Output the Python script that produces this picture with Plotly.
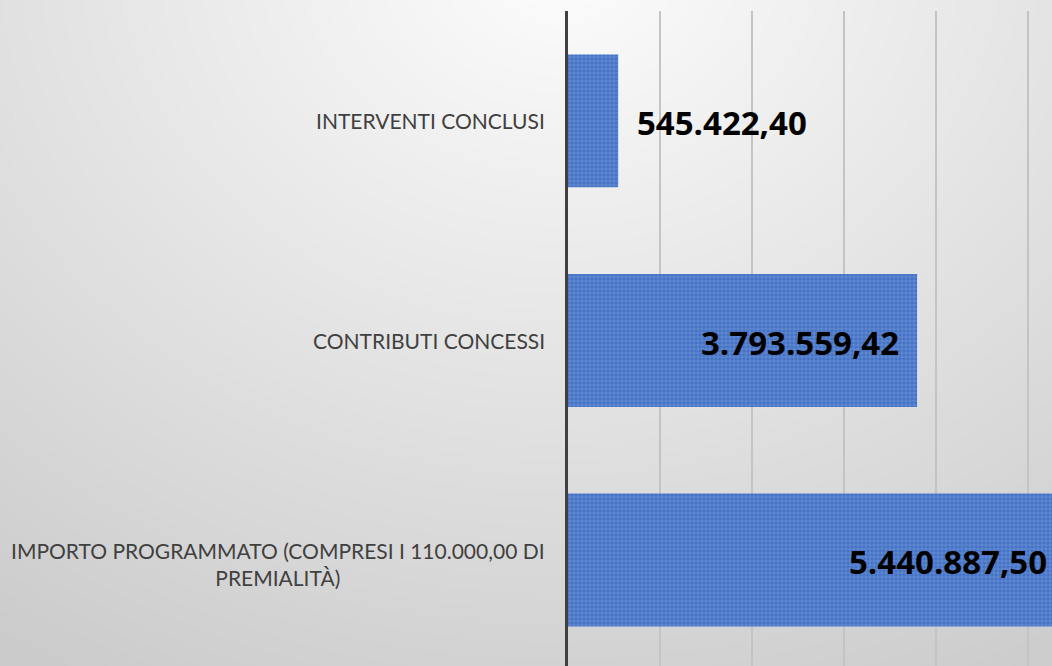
import plotly.graph_objects as go

# ---- data (bottom to top) ----
categories = [
    "IMPORTO PROGRAMMATO (COMPRESI I 110.000,00 DI<br>PREMIALITÀ)",
    "CONTRIBUTI CONCESSI",
    "INTERVENTI CONCLUSI",
]
values = [5440887.50, 3793559.42, 545422.40]
label_pos = ["end_clipped", "inside", "outside"]

W, H = 1052, 666
ML, MR, MT, MB = 568, 0, 11, 0
PW, PH = W - ML - MR, H - MT - MB
XMAX = 5.26e6


def it_fmt(v):
    s = f"{v:,.2f}"
    return s.replace(",", "X").replace(".", ",").replace("X", ".")


fig = go.Figure()
fig.add_trace(go.Bar(
    y=categories,
    x=values,
    orientation="h",
    width=0.605,
    marker=dict(
        color="#4472C4",
        line=dict(width=0),
        pattern=dict(shape="+", size=4, solidity=0.3,
                     fgcolor="rgba(200,218,250,0.7)", bgcolor="#4472C4"),
    ),
    hoverinfo="skip",
))

# ---- background radial gradient (styling) ----
shapes = []
cx, cy, sy = 560.0, -40.0, 1.2


def gray(d):
    c = 250 - 0.0497 * max(d - 50, 0)
    c = int(round(max(min(c, 250), 195)))
    return f"rgb({c},{c},{c})"


def px2paper_x(px):
    return (px - ML) / PW


def py2paper_y(py):
    return (H - MB - py) / PH


shapes.append(dict(type="rect", xref="paper", yref="paper",
                   x0=px2paper_x(0), x1=px2paper_x(W),
                   y0=py2paper_y(H), y1=py2paper_y(0),
                   fillcolor=gray(1000), line=dict(width=0), layer="below"))
d = 1000
while d > 0:
    rx, ry = d, d / sy
    shapes.append(dict(type="circle", xref="paper", yref="paper",
                       x0=px2paper_x(cx - rx), x1=px2paper_x(cx + rx),
                       y0=py2paper_y(cy + ry), y1=py2paper_y(cy - ry),
                       fillcolor=gray(d), line=dict(width=0), layer="below"))
    d -= 20

# ---- annotations: category labels and data labels ----
annotations = []
for cat in categories:
    annotations.append(dict(
        xref="paper", yref="y", x=-21 / PW, y=cat,
        yshift=-4 if "<br>" in cat else 0,
        text=cat, showarrow=False, xanchor="right", yanchor="middle",
        align="center",
        font=dict(family="Lato", size=21, color="#404040"),
    ))

for cat, v, pos in zip(categories, values, label_pos):
    if pos == "outside":
        ax, anchor, shift = v, "left", 17
    elif pos == "inside":
        ax, anchor, shift = v, "right", -16
    else:
        ax, anchor, shift = min(v, XMAX), "right", -3
    annotations.append(dict(
        xref="x", yref="y", x=ax, y=cat, xshift=shift, yshift=-2,
        text=f"<b>{it_fmt(v)}</b>", showarrow=False,
        xanchor=anchor, yanchor="middle",
        font=dict(family="Open Sans", size=33, color="#000000"),
    ))

fig.update_layout(
    width=W, height=H,
    margin=dict(l=ML, r=MR, t=MT, b=MB, pad=0),
    paper_bgcolor="#d8d8d8",
    plot_bgcolor="rgba(0,0,0,0)",
    showlegend=False,
    shapes=shapes,
    annotations=annotations,
    bargap=0.4,
    xaxis=dict(range=[0, XMAX], dtick=1e6, showgrid=True,
               gridcolor="#c4c4c4", gridwidth=1.5, showticklabels=False,
               zeroline=False, showline=False, fixedrange=True),
    yaxis=dict(categoryorder="array", categoryarray=categories,
               range=[-0.483, 2.501], showticklabels=False, showgrid=False,
               showline=True, linecolor="#404040", linewidth=3,
               zeroline=False, ticks="", fixedrange=True),
)

fig.write_html(
    "out.html",
    config={"displayModeBar": False},
    post_script="document.body.style.margin='0';document.body.style.overflow='hidden';",
)
